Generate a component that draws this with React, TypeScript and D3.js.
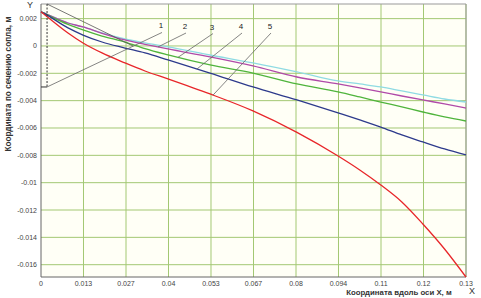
import React from "react";
import * as d3 from "d3";

const W = 481;
const H = 298;

const xTickValues = [0, 0.013333, 0.026667, 0.04, 0.053333, 0.066667, 0.08, 0.093333, 0.106667, 0.12, 0.133333];
const xTickLabels = ["0", "0.013", "0.027", "0.04", "0.053", "0.067", "0.08", "0.094", "0.11", "0.12", "0.13"];
const yTickValues = [0.002, 0, -0.002, -0.004, -0.006, -0.008, -0.01, -0.012, -0.014, -0.016];
const yTickLabels = ["0.002", "0", "-0.002", "-0.004", "-0.006", "-0.008", "-0.01", "-0.012", "-0.014", "-0.016"];

const xs = [0, 0.00125, 0.00847, 0.01318, 0.01914, 0.02635, 0.03262, 0.03984, 0.05302, 0.0665, 0.0803, 0.0932, 0.1, 0.1066, 0.1132, 0.1198, 0.1266, 0.13333];

const series1 = [0.0025, 0.00238, 0.00168, 0.00139, 0.00095, 0.00051, 0.00022, -0.00007, -0.00066, -0.00124, -0.0019, -0.00256, -0.00278, -0.003, -0.00329, -0.00358, -0.00388, -0.0041];
const series2 = [0.0025, 0.00238, 0.00168, 0.00139, 0.00093, 0.00044, 0.00012, -0.00022, -0.0008, -0.00146, -0.00227, -0.00278, -0.00307, -0.00336, -0.00366, -0.00395, -0.00424, -0.00454];
const series3 = [0.0025, 0.00236, 0.00158, 0.00117, 0.00072, 0.00029, -0.0002, -0.00066, -0.00139, -0.00198, -0.00278, -0.00336, -0.00373, -0.0041, -0.00446, -0.00483, -0.00519, -0.00549];
const series4 = [0.0025, 0.00235, 0.00132, 0.0008, 0.00029, -0.00015, -0.00051, -0.00102, -0.00198, -0.003, -0.00395, -0.0049, -0.00541, -0.00593, -0.00651, -0.00702, -0.00753, -0.00797];
const series5 = [0.0025, 0.00227, 0.00095, 0.00022, -0.00051, -0.00124, -0.00183, -0.00241, -0.00351, -0.00475, -0.00632, -0.00805, -0.00907, -0.01017, -0.01141, -0.01302, -0.01485, -0.0169];

const seriesNames = ["1", "2", "3", "4", "5"];
const seriesColors = ["#8fdbe3", "#b04aa8", "#4fb43c", "#2d3a8c", "#e8262a"];
const labelXs = [0.03765, 0.04518, 0.05365, 0.06275, 0.07184];
const labelYs = [0.00128, 0.00124, 0.0012, 0.00124, 0.00124];
const leaderTargetXs = [0.0019, 0.0367, 0.04298, 0.04894, 0.05396];

const insetX = 0.0019;
const insetBottom = -0.003;
const coneEndX = 0.02886;
const coneEndY = 0;

export default function App() {
  const m = { left: 41, right: 466, top: 4, bottom: 277 };
  const x = d3.scaleLinear().domain([0, 0.133333]).range([m.left, m.right]);
  const y = d3.scaleLinear().domain([-0.0169, 0.00307]).range([m.bottom, m.top]);
  const allSeries = [series1, series2, series3, series4, series5];
  const line = d3
    .line<number>()
    .x((_, i) => x(xs[i]))
    .y((d) => y(d))
    .curve(d3.curveMonotoneX);

  const interp = (s: number[], xv: number) => {
    for (let i = 0; i < xs.length - 1; i++) {
      if (xv >= xs[i] && xv <= xs[i + 1]) {
        const t = (xv - xs[i]) / (xs[i + 1] - xs[i]);
        return s[i] + t * (s[i + 1] - s[i]);
      }
    }
    return s[s.length - 1];
  };

  const font = "'Liberation Sans', Arial, sans-serif";
  const gridColor = "#a3c873";

  return (
    <svg width={W} height={H} style={{ position: "absolute", left: 0, top: 0, background: "#fff" }} fontFamily={font}>
      <rect x={m.left} y={m.top} width={m.right - m.left} height={m.bottom - m.top} fill="#fffff6" />
      {xTickValues.slice(1).map((v, i) => (
        <line key={"gx" + i} x1={x(v)} x2={x(v)} y1={m.top} y2={m.bottom} stroke={gridColor} strokeWidth={1} />
      ))}
      {yTickValues.map((v, i) => (
        <line key={"gy" + i} x1={m.left} x2={m.right} y1={y(v)} y2={y(v)} stroke={gridColor} strokeWidth={1} />
      ))}
      <line x1={m.left} x2={m.right} y1={m.top} y2={m.top} stroke="#999" strokeWidth={1} />
      <line x1={m.right} x2={m.right} y1={m.top} y2={m.bottom} stroke="#999" strokeWidth={1} />
      <line x1={m.left} x2={m.left} y1={m.top} y2={m.bottom} stroke="#666" strokeWidth={1} />
      <line x1={m.left} x2={m.right} y1={m.bottom} y2={m.bottom} stroke="#666" strokeWidth={1} />

      {allSeries.map((s, i) => (
        <path key={"s" + i} d={line(s) || ""} fill="none" stroke={seriesColors[i]} strokeWidth={1.3} />
      ))}

      <line x1={x(insetX)} x2={x(insetX)} y1={y(0.00307)} y2={y(insetBottom)} stroke="#333" strokeWidth={1} strokeDasharray="2,1.5" />
      <line x1={x(0)} x2={x(insetX)} y1={y(insetBottom)} y2={y(insetBottom)} stroke="#333" strokeWidth={1} />
      <line x1={x(insetX)} x2={x(coneEndX)} y1={y(0.00307)} y2={y(coneEndY)} stroke="#555" strokeWidth={0.8} />

      {seriesNames.map((n, i) => {
        const lx = x(labelXs[i]);
        const ly = y(labelYs[i]);
        const tx = x(leaderTargetXs[i]);
        const ty = i === 0 ? y(insetBottom) : y(interp(allSeries[i], leaderTargetXs[i]));
        return (
          <g key={"l" + i}>
            <line x1={lx + 1} y1={ly + 4} x2={tx} y2={ty} stroke="#666" strokeWidth={0.8} />
            <text x={lx} y={ly} fontSize={8} fill="#222" textAnchor="middle">{n}</text>
          </g>
        );
      })}

      {yTickValues.map((v, i) => (
        <text key={"ty" + i} x={37} y={y(v) + 2.5} fontSize={7} fill="#444" textAnchor="end">{yTickLabels[i]}</text>
      ))}
      {xTickValues.map((v, i) => (
        <text key={"tx" + i} x={x(v)} y={286} fontSize={7} fill="#444" textAnchor="middle">{xTickLabels[i]}</text>
      ))}

      <text x={30} y={8} fontSize={9} fill="#333" textAnchor="middle">Y</text>
      <text x={472} y={294} fontSize={9} fill="#333" textAnchor="middle">X</text>
      <text x={399} y={295} fontSize={7.8} fontWeight="bold" fill="#333" textAnchor="middle">Координата вдоль оси X, м</text>
      <text transform={`translate(11,${84}) rotate(-90)`} fontSize={8.2} fontWeight="bold" fill="#333" textAnchor="middle">Координата по сечению сопла, м</text>
    </svg>
  );
}
